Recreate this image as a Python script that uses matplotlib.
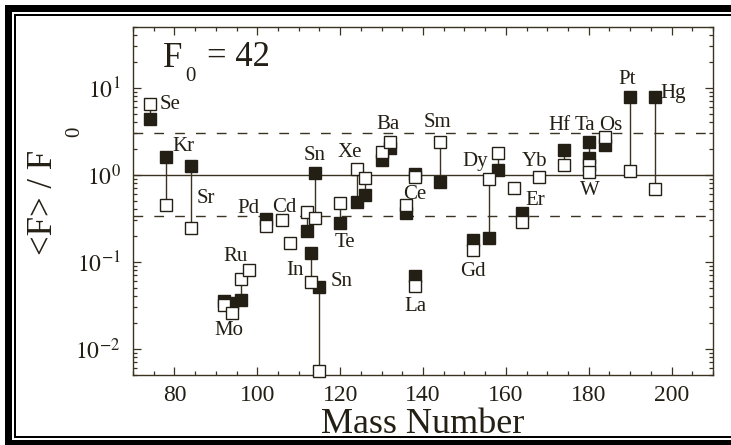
import matplotlib
matplotlib.use('Agg')
import matplotlib.pyplot as plt
from matplotlib.ticker import FixedLocator, MultipleLocator, NullFormatter, FixedFormatter
from matplotlib.patches import Rectangle
import numpy as np

# ---------------- data ----------------
isotopes = ['Se74', 'Kr78', 'Sr84', 'Mo92', 'Mo94', 'Ru96', 'Ru98', 'Pd102', 'Cd106',
            'Cd108', 'Sn112', 'In113', 'Sn114', 'Sn115', 'Te120', 'Xe124', 'Xe126',
            'Ba130', 'Ba132', 'Ce136', 'Ce138', 'La138', 'Sm144', 'Gd152', 'Dy156',
            'Dy158', 'Er162', 'Er164', 'Yb168', 'Hf174', 'Ta180', 'W180', 'Os184',
            'Pt190', 'Hg196']
mass = [74, 78, 84, 92, 94, 96, 98, 102, 106,
        108, 112, 113, 114, 115, 120, 124, 126,
        130, 132, 136, 138, 138, 144, 152, 156,
        158, 162, 164, 168, 174, 180, 180, 184,
        190, 196]
open_vals = [6.6, 0.45, 0.246, 0.032, 0.0255, 0.064, 0.080, 0.26, 0.30,
             0.165, 0.376, 0.059, 0.315, 0.0055, 0.48, 1.16, 0.92,
             1.84, 2.39, 0.45, 0.95, 0.053, 2.4, 0.136, 0.89,
             1.76, 0.70, 0.29, 0.95, 1.29, 1.29, 1.08, 2.73,
             1.10, 0.68]
filled_vals = [4.4, 1.61, 1.26, 0.035, 0.034, 0.036, np.nan, 0.31, np.nan,
               np.nan, 0.225, 0.125, 1.05, 0.0507, 0.28, 0.49, 0.58,
               1.48, 2.04, 0.366, 1.03, 0.069, 0.83, 0.177, 0.19,
               1.13, np.nan, 0.36, np.nan, 1.94, 2.4, 1.54, 2.19,
               7.9, 7.9]

# element labels (text, data-x, data-y)
label_text = ['Se', 'Kr', 'Sr', 'Ru', 'Mo', 'Pd', 'Cd', 'In', 'Sn', 'Sn', 'Te', 'Xe',
              'Ba', 'Ce', 'La', 'Sm', 'Gd', 'Dy', 'Er', 'Yb', 'Hf', 'Ta', 'Os', 'W',
              'Pt', 'Hg']
label_x = [79.0, 82.2, 87.7, 94.7, 93.1, 97.9, 106.6, 109.2, 113.8, 120.4, 121.2, 122.4,
           131.6, 137.9, 138.1, 143.4, 152.1, 152.5, 167.0, 167.0, 172.9, 179.0, 185.4, 180.2,
           189.3, 200.3]
label_y = [6.5, 2.1, 0.53, 0.114, 0.0164, 0.41, 0.42, 0.080, 1.68, 0.059, 0.167, 1.79,
           3.83, 0.594, 0.0304, 3.99, 0.078, 1.44, 0.50, 1.44, 3.72, 3.72, 3.72, 0.667,
           12.3, 8.6]

xticks = [80, 100, 120, 140, 160, 180, 200]
yticks = [0.01, 0.1, 1, 10]
ytick_labels = [r'$10^{-2}$', r'$10^{-1}$', r'$10^{0}$', r'$10^{1}$']
upper_band, reference, lower_band = 3.0, 1.0, 1 / 3.0

# ---------------- style ----------------
W, H = 731, 445
plt.rcParams['font.family'] = ['Liberation Serif', 'DejaVu Serif']
plt.rcParams['mathtext.fontset'] = 'stix'
ink = '#241f15'
axc = '#3a3322'

fig = plt.figure(figsize=(W / 100, H / 100), dpi=100)
fig.patch.set_facecolor('white')


def fx(px):
    return px / W


def fy(py):
    return 1 - py / H


ax = fig.add_axes([fx(133), fy(375), (713 - 133) / W, (375 - 27) / H])
ax.set_yscale('log')
ax.set_xlim(70, 210)
ax.set_ylim(0.005, 50)

# reference lines
ax.axhline(reference, color=axc, lw=1.0, zorder=1)
ax.axhline(upper_band, color=axc, lw=1.0, ls=(0, (7, 8)), zorder=1)
ax.axhline(lower_band, color=axc, lw=1.0, ls=(0, (7, 8)), zorder=1)

m = np.array(mass, dtype=float)
o = np.array(open_vals, dtype=float)
f = np.array(filled_vals, dtype=float)
for mi, oi, fi in zip(m, o, f):
    if not np.isnan(fi):
        ax.plot([mi, mi], [oi, fi], color=axc, lw=1.0, zorder=2)

ax.plot(m, f, ls='none', marker='s', ms=8.3, mfc=ink, mec=ink, mew=1.0, zorder=3,
        clip_on=False)
ax.plot(m, o, ls='none', marker='s', ms=8.3, mfc='white', mec=ink, mew=1.0, zorder=4,
        clip_on=False)

for t, x, y in zip(label_text, label_x, label_y):
    ax.text(x, y, t, fontsize=15, color=ink, ha='center', va='center', zorder=5)

# axes styling
for s in ax.spines.values():
    s.set_color(axc)
    s.set_linewidth(1.0)
ax.xaxis.set_major_locator(FixedLocator(xticks))
ax.xaxis.set_minor_locator(MultipleLocator(5))
ax.yaxis.set_major_locator(FixedLocator(yticks))
ax.yaxis.set_major_formatter(FixedFormatter(ytick_labels))
minor_y = [k * 10.0 ** e for e in range(-3, 2) for k in range(2, 10)]
ax.yaxis.set_minor_locator(FixedLocator(minor_y))
ax.yaxis.set_minor_formatter(NullFormatter())
ax.tick_params(which='both', direction='in', top=True, right=True, color=axc,
               width=0.9)
ax.tick_params(which='major', length=6)
ax.tick_params(which='minor', length=3)
ax.tick_params(axis='x', labelsize=17, pad=7, labelcolor=ink)
ax.tick_params(axis='y', labelsize=17, pad=9, labelcolor=ink)

# F0 = 42 annotation
fig.text(fx(163), fy(67), 'F', fontsize=25, color=ink, ha='left', va='baseline')
fig.text(fx(190), fy(77), '0', fontsize=15, color=ink, ha='center', va='center')
fig.text(fx(207), fy(66), '= 42', fontsize=25, color=ink, ha='left', va='baseline')

# axis labels
fig.text(fx(44), fy(202), '<F> / F', fontsize=25, color=ink, rotation=90,
         ha='center', va='center')
fig.text(fx(75), fy(132), '0', fontsize=15, color=ink, rotation=90,
         ha='center', va='center')
fig.text(fx(423), fy(433), 'Mass Number', fontsize=26, color=ink,
         ha='center', va='baseline')

# picture frame
frame = [(5, 12, 5, 445), (5, W, 5, 12), (5, W, 440, 445),
         (14, 16, 14, 438), (14, W, 14, 16), (14, W, 436, 438)]
for x0, x1, y0, y1 in frame:
    fig.add_artist(Rectangle((fx(x0), fy(y1)), (x1 - x0) / W, (y1 - y0) / H,
                             transform=fig.transFigure, facecolor='black',
                             edgecolor='none'))

fig.savefig('out.png', dpi=100)
